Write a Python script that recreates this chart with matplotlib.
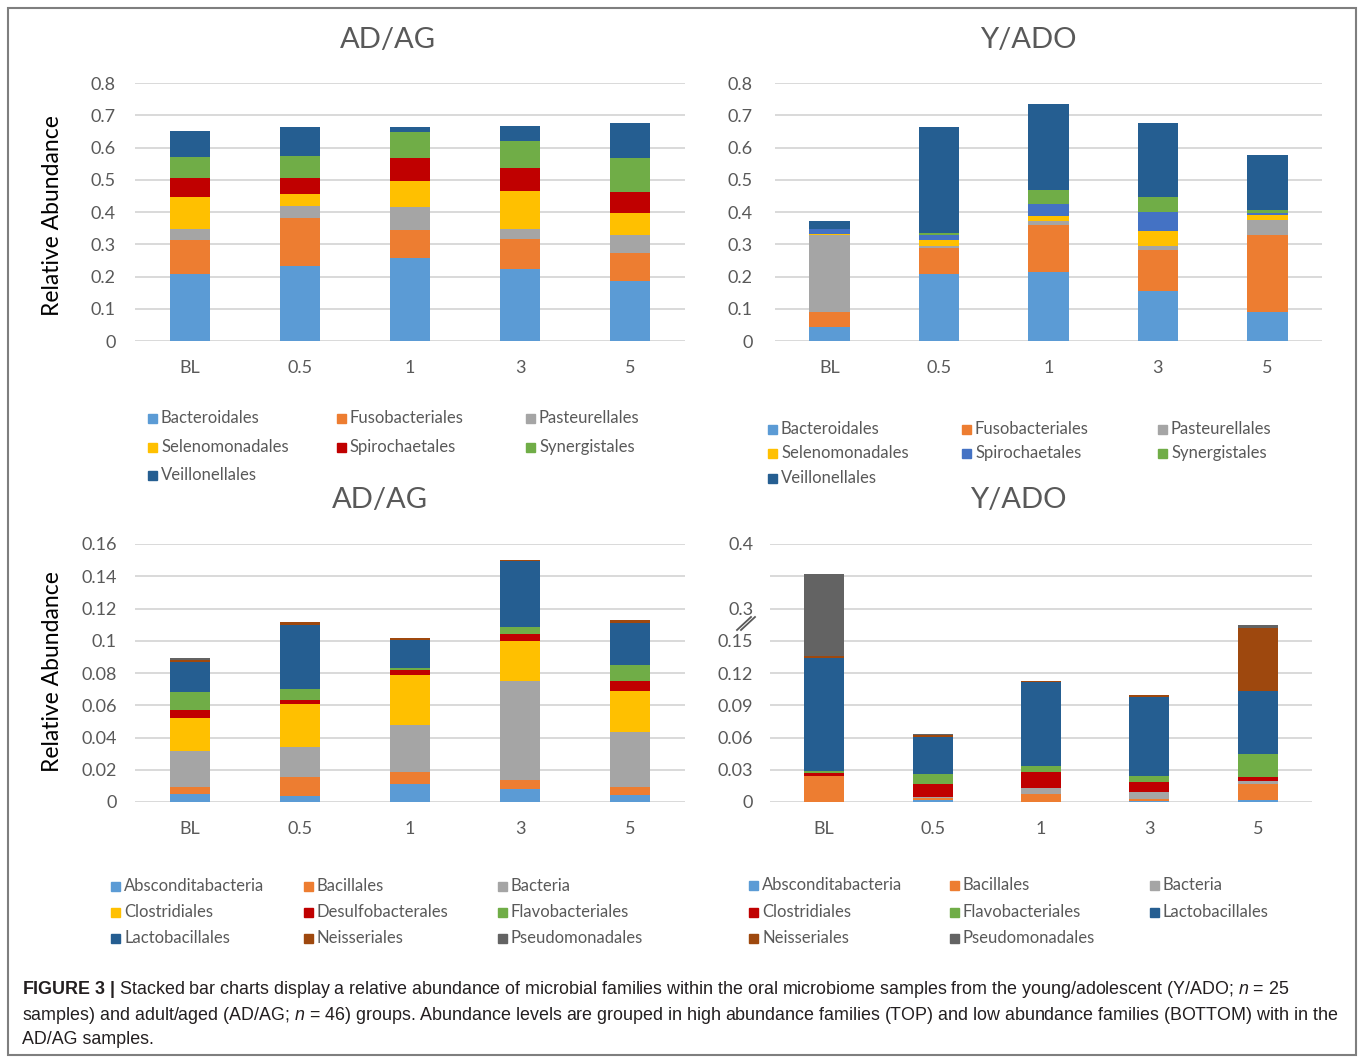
import matplotlib
matplotlib.use("Agg")
import matplotlib.pyplot as plt
import numpy as np
from matplotlib.patches import Rectangle
from matplotlib.lines import Line2D

plt.rcParams["font.family"] = ["Lato", "DejaVu Sans"]
plt.rcParams["mathtext.fontset"] = "custom"
plt.rcParams["mathtext.rm"] = "Liberation Sans"
plt.rcParams["mathtext.it"] = "Liberation Sans:italic"
plt.rcParams["mathtext.bf"] = "Liberation Sans:bold"

cats = ["BL", "0.5", "1", "3", "5"]

# --- high abundance families (top row) ---
top_labels = ["Bacteroidales", "Fusobacteriales", "Pasteurellales", "Selenomonadales",
              "Spirochaetales", "Synergistales", "Veillonellales"]

adag_bacteroidales = [0.207, 0.233, 0.258, 0.224, 0.186]
adag_fusobacteriales = [0.106, 0.148, 0.085, 0.092, 0.088]
adag_pasteurellales = [0.034, 0.037, 0.071, 0.030, 0.056]
adag_selenomonadales = [0.100, 0.038, 0.081, 0.118, 0.067]
adag_spirochaetales = [0.057, 0.048, 0.072, 0.072, 0.064]
adag_synergistales = [0.066, 0.071, 0.080, 0.084, 0.106]
adag_veillonellales = [0.081, 0.088, 0.018, 0.048, 0.110]

yado_bacteroidales = [0.042, 0.207, 0.215, 0.156, 0.089]
yado_fusobacteriales = [0.047, 0.082, 0.145, 0.126, 0.241]
yado_pasteurellales = [0.241, 0.007, 0.011, 0.013, 0.046]
yado_selenomonadales = [0.001, 0.017, 0.018, 0.047, 0.016]
yado_spirochaetales = [0.016, 0.017, 0.037, 0.059, 0.006]
yado_synergistales = [0.001, 0.006, 0.043, 0.047, 0.008]
yado_veillonellales = [0.025, 0.328, 0.266, 0.229, 0.170]

# --- low abundance families (bottom row) ---
adag_low_labels = ["Absconditabacteria", "Bacillales", "Bacteria", "Clostridiales",
                   "Desulfobacterales", "Flavobacteriales", "Lactobacillales",
                   "Neisseriales", "Pseudomonadales"]

adag_absconditabacteria = [0.0052, 0.0037, 0.0112, 0.0079, 0.0043]
adag_bacillales = [0.0043, 0.0118, 0.0077, 0.0060, 0.0052]
adag_bacteria = [0.0220, 0.0184, 0.0288, 0.0609, 0.0340]
adag_clostridiales = [0.0203, 0.0271, 0.0313, 0.0253, 0.0253]
adag_desulfobacterales = [0.0052, 0.0020, 0.0029, 0.0043, 0.0060]
adag_flavobacteriales = [0.0110, 0.0072, 0.0015, 0.0041, 0.0101]
adag_lactobacillales = [0.0186, 0.0397, 0.0168, 0.0412, 0.0263]
adag_neisseriales = [0.0015, 0.0015, 0.0012, 0.0004, 0.0015]
adag_pseudomonadales = [0.0010, 0.0003, 0.0004, 0.0002, 0.0003]

yado_low_labels = ["Absconditabacteria", "Bacillales", "Bacteria", "Clostridiales",
                   "Flavobacteriales", "Lactobacillales", "Neisseriales", "Pseudomonadales"]

# values as drawn on the (broken) axis scale
yado_absconditabacteria = [0.0003, 0.0020, 0.0003, 0.0005, 0.0020]
yado_bacillales = [0.0240, 0.0020, 0.0068, 0.0020, 0.0149]
yado_bacteria = [0.0003, 0.0005, 0.0062, 0.0068, 0.0030]
yado_clostridiales = [0.0020, 0.0127, 0.0142, 0.0090, 0.0030]
yado_flavobacteriales = [0.0020, 0.0084, 0.0059, 0.0062, 0.0217]
yado_lactobacillales = [0.1056, 0.0347, 0.0783, 0.0728, 0.0588]
yado_neisseriales = [0.0015, 0.0020, 0.0005, 0.0020, 0.0588]
yado_pseudomonadales = [0.0765, 0.0005, 0.0003, 0.0003, 0.0020]
yado_low_ticks = ["0", "0.03", "0.06", "0.09", "0.12", "0.15", "0.3", "", "0.4"]

BLUE = "#5B9BD5"
ORANGE = "#ED7D31"
GRAY = "#A5A5A5"
YELLOW = "#FFC000"
RED = "#C00000"
GREEN = "#70AD47"
DBLUE = "#255E91"
MBLUE = "#4472C4"
BROWN = "#9E480E"
DGRAY = "#636363"
TXT = "#595959"

W, H = 1360, 1058
fig = plt.figure(figsize=(13.6, 10.58), dpi=100)


def fx(x):
    return x / W


def fy(y):
    return 1 - y / H


def make_axes(left, right, top, bottom):
    return fig.add_axes([fx(left), fy(bottom), (right - left) / W, (bottom - top) / H])


def stacked(ax, series, colors, ymax, step, ypad):
    x = np.arange(len(cats))
    base = np.zeros(len(cats))
    for vals, c in zip(series, colors):
        ax.bar(x, vals, 0.37, bottom=base, color=c, linewidth=0, zorder=3)
        base += np.array(vals)
    ax.set_xlim(-0.5, 4.5)
    ax.set_ylim(0, ymax)
    ticks = np.arange(0, ymax + step / 2, step)
    ax.set_yticks(ticks, ["{:g}".format(round(t, 3)) for t in ticks])
    ax.yaxis.grid(True, color="#D9D9D9", lw=1.4, zorder=0)
    ax.set_xticks(x, cats)
    for s in ax.spines.values():
        s.set_visible(False)
    ax.tick_params(length=0, colors=TXT, labelsize=13)
    ax.tick_params(axis="y", pad=ypad)
    ax.tick_params(axis="x", pad=14)


def legend_grid(labels, colors, xs, ys):
    for i, (lab, c) in enumerate(zip(labels, colors)):
        r, col = divmod(i, 3)
        x, y = xs[col], ys[r]
        fig.patches.append(Rectangle((fx(x), fy(y + 4.5)), 9 / W, 9 / H,
                                     transform=fig.transFigure, color=c))
        fig.text(fx(x + 13), fy(y), lab, fontsize=12, color=TXT, va="center", ha="left")


# top left: AD/AG high abundance
ax1 = make_axes(135, 685, 83, 341)
top_colors = [BLUE, ORANGE, GRAY, YELLOW, RED, GREEN, DBLUE]
stacked(ax1, [adag_bacteroidales, adag_fusobacteriales, adag_pasteurellales,
              adag_selenomonadales, adag_spirochaetales, adag_synergistales,
              adag_veillonellales], top_colors, 0.8, 0.1, 14)
fig.text(fx(388), fy(40), "AD/AG", fontsize=21, color=TXT, ha="center", va="center")
fig.text(fx(53), fy(216), "Relative Abundance", rotation=90, fontsize=16.5,
         color="black", ha="center", va="center")
legend_grid(top_labels, top_colors, [148, 337, 526], [418, 447, 475])

# top right: Y/ADO high abundance
ax2 = make_axes(775, 1322, 83, 341)
top_colors2 = [BLUE, ORANGE, GRAY, YELLOW, MBLUE, GREEN, DBLUE]
stacked(ax2, [yado_bacteroidales, yado_fusobacteriales, yado_pasteurellales,
              yado_selenomonadales, yado_spirochaetales, yado_synergistales,
              yado_veillonellales], top_colors2, 0.8, 0.1, 16)
fig.text(fx(1028), fy(40), "Y/ADO", fontsize=21, color=TXT, ha="center", va="center")
legend_grid(top_labels, top_colors2, [768, 962, 1158], [429, 453, 478])

# bottom left: AD/AG low abundance
ax3 = make_axes(135, 685, 544, 802)
low_colors = [BLUE, ORANGE, GRAY, YELLOW, RED, GREEN, DBLUE, BROWN, DGRAY]
stacked(ax3, [adag_absconditabacteria, adag_bacillales, adag_bacteria,
              adag_clostridiales, adag_desulfobacterales, adag_flavobacteriales,
              adag_lactobacillales, adag_neisseriales, adag_pseudomonadales],
        low_colors, 0.16, 0.02, 13)
fig.text(fx(380), fy(500), "AD/AG", fontsize=21, color=TXT, ha="center", va="center")
fig.text(fx(53), fy(672), "Relative Abundance", rotation=90, fontsize=16.5,
         color="black", ha="center", va="center")
legend_grid(adag_low_labels, low_colors, [111, 304, 498], [886, 912, 938])

# bottom right: Y/ADO low abundance (broken axis)
ax4 = make_axes(770, 1312, 544, 802)
low_colors2 = [BLUE, ORANGE, GRAY, RED, GREEN, DBLUE, BROWN, DGRAY]
stacked(ax4, [yado_absconditabacteria, yado_bacillales, yado_bacteria,
              yado_clostridiales, yado_flavobacteriales, yado_lactobacillales,
              yado_neisseriales, yado_pseudomonadales], low_colors2, 0.24, 0.03, 12)
ax4.set_yticks(np.arange(0, 0.245, 0.03), yado_low_ticks)
fig.text(fx(1018), fy(500), "Y/ADO", fontsize=21, color=TXT, ha="center", va="center")
for dx in (0, 4):
    fig.lines.append(Line2D([fx(737 + dx), fx(751 + dx)], [fy(630), fy(617)],
                            transform=fig.transFigure, color=TXT, lw=1.3))
legend_grid(yado_low_labels, low_colors2, [749, 950, 1150], [885, 912, 938])

# outer frame
fig.patches.append(Rectangle((fx(8), fy(1055)), (1356 - 8) / W, (1055 - 8) / H,
                             transform=fig.transFigure, fill=False,
                             edgecolor="#7F7F7F", lw=1.5))

# caption, sized so the longest line fills the frame width
cap1 = (r"$\bf{FIGURE\ 3\ |}$ Stacked bar charts display a relative abundance of microbial "
        r"families within the oral microbiome samples from the young/adolescent (Y/ADO; $n$ = 25")
cap2 = (r"samples) and adult/aged (AD/AG; $n$ = 46) groups. Abundance levels are grouped in high "
        r"abundance families (TOP) and low abundance families (BOTTOM) with in the")
cap3 = "AD/AG samples."
renderer = fig.canvas.get_renderer()
probe = fig.text(0, 0, cap2, fontsize=12, family="Liberation Sans")
w = probe.get_window_extent(renderer).width
probe.remove()
cap_fs = 12 * 1318 / w
for txt, y in zip([cap1, cap2, cap3], [990, 1015, 1040]):
    fig.text(fx(22), fy(y), txt, fontsize=cap_fs, family="Liberation Sans",
             color="#231F20", ha="left", va="center")

fig.savefig("out.png", dpi=100)
